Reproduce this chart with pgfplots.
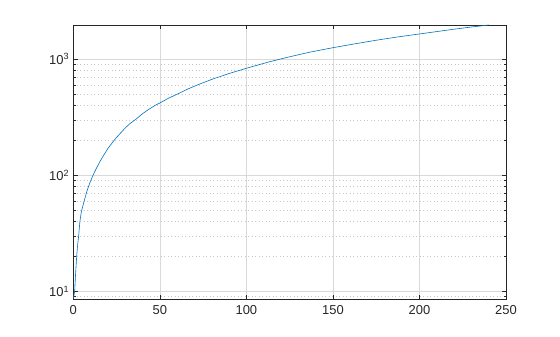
\documentclass[border=0pt]{standalone}
\usepackage{pgfplots}
\pgfplotsset{compat=1.18}
\usepackage{fontspec}
\setmainfont{Liberation Sans}
\definecolor{mblue}{RGB}{0,114,189}
\definecolor{tickc}{RGB}{38,38,38}
\begin{document}
\begin{tikzpicture}
\begin{semilogyaxis}[
  scale only axis, width=432.7bp, height=274bp,
  xmin=0, xmax=250, ymin=8.6, ymax=1962,
  xtick={0,50,100,150,200,250},
  ytick={10,100,1000},
  yticklabels={10\textsuperscript{1},10\textsuperscript{2},10\textsuperscript{3}},
  minor ytick={9,20,30,40,50,60,70,80,90,200,300,400,500,600,700,800,900},
  xmajorgrids, ymajorgrids, yminorgrids,
  major grid style={color=black!15, line width=0.5bp},
  minor grid style={color=black!22, dash pattern=on 1bp off 2.5bp, line width=0.5bp},
  tick align=inside,
  major tick length=4.3bp, minor tick length=2.5bp,
  axis line style={line width=0.6bp, tickc},
  every tick/.style={tickc, line width=0.5bp},
  ticklabel style={font=\fontsize{13}{15}\selectfont, text=tickc},
  xticklabel style={inner sep=0pt, yshift=-6bp},
  yticklabel style={inner sep=0pt, xshift=-4bp},
  /pgf/number format/assume math mode=true,
]
\addplot[color=mblue, line width=0.6bp] coordinates {
(0,8.6) (0.8,10) (1.3,14) (1.95,20) (2.5,25) (3.1,30) (3.8,40) (4.6,48) (6,58) (8,74) (9.7,87) (11.4,100)
(13,112) (15,128) (17.5,148) (20,170) (22.5,190) (24.8,210) (27.5,232) (30,255) (33,280) (36.4,305)
(40,338) (43.5,368) (47.4,400) (50,418) (55,460) (61.5,510) (66,550) (72,600) (80,668) (90,750)
(100,832) (112,935) (125,1045) (137,1148) (150,1251) (162,1345) (175,1450) (187,1545) (200,1642)
(210,1722) (220,1805) (230,1885) (240,1962)
};
\end{semilogyaxis}
\path (current axis.south west) ++(-73.3bp,-38bp);
\path (current axis.north east) ++(54bp,25bp);
\end{tikzpicture}
\end{document}
